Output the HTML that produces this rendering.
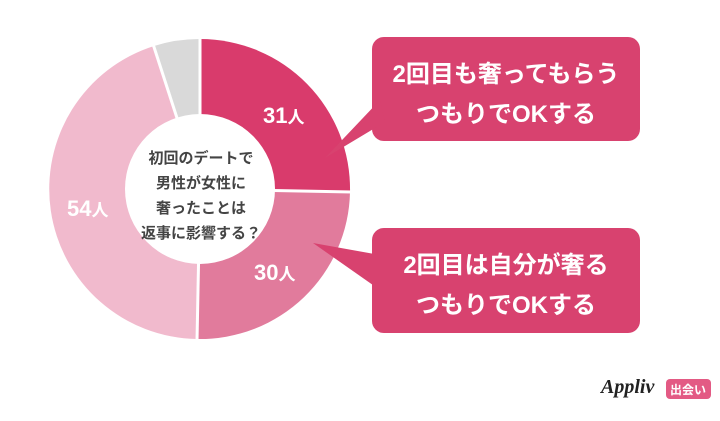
<!DOCTYPE html>
<html><head><meta charset="utf-8"><style>
body{margin:0;width:720px;height:416px;background:#fff;overflow:hidden;font-family:"Liberation Sans","Noto Sans CJK JP",sans-serif;}
</style></head><body>
<svg width="720" height="416" viewBox="0 0 720 416" xmlns="http://www.w3.org/2000/svg" font-family="Liberation Sans, Noto Sans CJK JP, sans-serif">
<path d="M200,39 A150,150 0 0 1 350,192 L200,189 Z" fill="#d93b6c"/>
<path d="M350,192 A150,150 0 0 1 197,339 L200,189 Z" fill="#e17b9c"/>
<path d="M197,339 A150,150 0 0 1 154,46 L200,189 Z" fill="#f1bacd"/>
<path d="M154,46 A150,150 0 0 1 200,39 L200,189 Z" fill="#d9d9d9"/>
<g stroke="#fff" stroke-width="3">
<line x1="200" y1="189" x2="200" y2="37"/>
<line x1="200" y1="189" x2="352" y2="192"/>
<line x1="200" y1="189" x2="197" y2="341"/>
<line x1="200" y1="189" x2="153" y2="44"/>
</g>
<circle cx="200" cy="189" r="75" fill="#fff"/>
<g font-size="15" font-weight="bold" fill="#444" text-anchor="middle">
<text x="201" y="163">初回のデートで</text>
<text x="201" y="188">男性が女性に</text>
<text x="201" y="213">奢ったことは</text>
<text x="201" y="238">返事に影響する？</text>
</g>
<g font-size="22" font-weight="bold" fill="#fff">
<text x="263" y="123">31<tspan font-size="17">人</tspan></text>
<text x="254" y="280">30<tspan font-size="17">人</tspan></text>
<text x="67" y="216">54<tspan font-size="17">人</tspan></text>
</g>
<rect x="372" y="37" width="268" height="104" rx="12" fill="#d8426f"/>
<path d="M380,100 L325,158 L385,122 Z" fill="#d8426f"/>
<rect x="372" y="228" width="268" height="105" rx="12" fill="#d8426f"/>
<path d="M380,255 L313,243 L380,290 Z" fill="#d8426f"/>
<g font-size="24" font-weight="bold" fill="#fff" text-anchor="middle">
<text x="506" y="82">2回目も奢ってもらう</text>
<text x="506" y="122">つもりでOKする</text>
<text x="506" y="273">2回目は自分が奢る</text>
<text x="506" y="313">つもりでOKする</text>
</g>
<text x="601" y="393" font-size="20" font-weight="bold" font-style="italic" fill="#222" font-family="Liberation Serif, serif">Appliv</text>
<rect x="666" y="379" width="45" height="20" rx="4" fill="#e35a84"/>
<text x="688" y="394" font-size="12" font-weight="bold" fill="#fff" text-anchor="middle">出会い</text>
</svg>
</body></html>
